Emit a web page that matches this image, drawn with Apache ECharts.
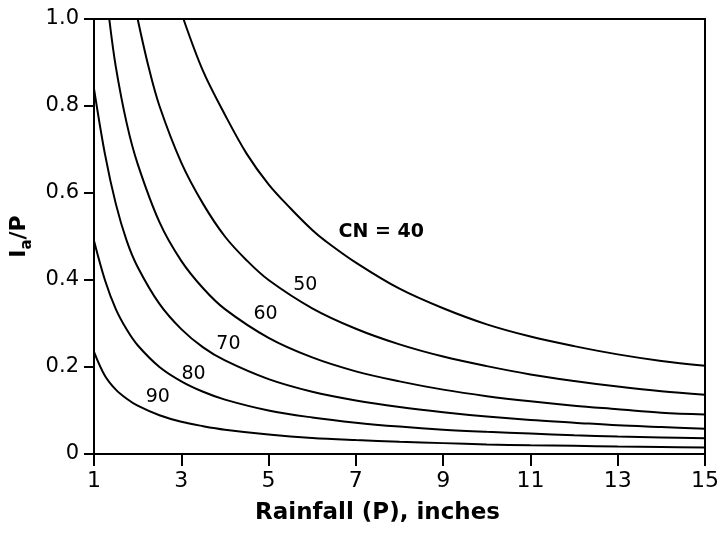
<!DOCTYPE html>
<html>
<head>
<meta charset="utf-8">
<script src="https://cdn.jsdelivr.net/npm/echarts@6/dist/echarts.min.js"></script>
<style>
  html, body { margin: 0; padding: 0; background: #fff; }
  #chart { width: 722px; height: 533px; }
</style>
</head>
<body>
<div id="chart"></div>
<script>
// rainfall P (inches) and Ia/P
const p40 = [3.05, 3.5, 4, 4.5, 5, 5.5, 6, 6.3, 7, 8, 9, 10, 11, 12, 13, 14, 15];
const v40 = [1.0, 0.88, 0.78, 0.69, 0.62, 0.565, 0.515, 0.49, 0.44, 0.38, 0.335, 0.298, 0.27, 0.248, 0.229, 0.214, 0.203];

const p50 = [2.0, 2.25, 2.5, 3, 3.5, 4, 4.5, 5, 6, 7, 8, 9, 10, 11, 12, 13, 14, 15];
const v50 = [1.0, 0.89, 0.8, 0.67, 0.575, 0.5, 0.445, 0.4, 0.335, 0.288, 0.252, 0.224, 0.202, 0.183, 0.168, 0.155, 0.144, 0.136];

const p60 = [1.35, 1.5, 1.75, 2, 2.5, 3, 3.5, 4, 5, 6, 7, 8, 9, 10, 11, 12, 13, 14, 15];
const v60 = [1.0, 0.89, 0.76, 0.667, 0.533, 0.444, 0.381, 0.333, 0.267, 0.222, 0.19, 0.167, 0.148, 0.133, 0.121, 0.111, 0.103, 0.095, 0.091];

const p70 = [1, 1.25, 1.5, 1.75, 2, 2.5, 3, 3.5, 4, 5, 6, 7, 8, 9, 10, 11, 12, 13, 14, 15];
const v70 = [0.84, 0.69, 0.575, 0.49, 0.43, 0.345, 0.287, 0.245, 0.215, 0.172, 0.143, 0.123, 0.108, 0.096, 0.086, 0.078, 0.072, 0.066, 0.062, 0.058];

const p80 = [1, 1.25, 1.5, 1.75, 2, 2.5, 3, 3.5, 4, 5, 6, 7, 8, 9, 10, 11, 12, 13, 14, 15];
const v80 = [0.49, 0.4, 0.333, 0.286, 0.25, 0.2, 0.167, 0.143, 0.125, 0.1, 0.084, 0.072, 0.063, 0.056, 0.051, 0.047, 0.043, 0.04, 0.038, 0.036];

const p90 = [1, 1.25, 1.5, 1.75, 2, 2.5, 3, 3.5, 4, 5, 6, 7, 8, 9, 10, 11, 12, 13, 14, 15];
const v90 = [0.235, 0.18, 0.148, 0.127, 0.111, 0.089, 0.074, 0.064, 0.056, 0.045, 0.037, 0.032, 0.028, 0.025, 0.022, 0.02, 0.019, 0.017, 0.016, 0.015];

// curve labels, placed in data units
const labelText = ['CN = 40', '50', '60', '70', '80', '90'];
const labelP = [7.58, 5.84, 4.93, 4.08, 3.28, 2.46];
const labelV = [0.51, 0.389, 0.322, 0.253, 0.184, 0.131];

const xTicks = { min: 1, max: 15, interval: 2 };
const yTicks = { min: 0, max: 1, interval: 0.2 };

const pairs = (ps, vs) => ps.map((p, i) => [p, vs[i]]);

const curves = [[p40, v40], [p50, v50], [p60, v60], [p70, v70], [p80, v80], [p90, v90]];

const lineSeries = curves.map((c) => ({
  type: 'line',
  data: pairs(c[0], c[1]),
  showSymbol: false,
  smooth: 0.35,
  lineStyle: { color: '#000', width: 2 },
  silent: true
}));

// labels sit on invisible points (scatter is 0.8 opacity by default)
const labelSeries = {
  type: 'scatter',
  symbolSize: 0,
  silent: true,
  itemStyle: { color: '#000', opacity: 1 },
  data: labelText.map((t, i) => ({
    value: [labelP[i], labelV[i]],
    name: t,
    label: { fontWeight: i === 0 ? 'bold' : 'normal' }
  })),
  label: {
    show: true,
    position: 'inside',
    formatter: (d) => d.name,
    color: '#000',
    textBorderWidth: 0,
    fontFamily: 'DejaVu Sans',
    fontSize: 19
  }
};

const myChart = echarts.init(document.getElementById('chart'));
myChart.setOption({
  backgroundColor: '#fff',
  animation: false,
  grid: {
    left: 94, right: 16, top: 19, bottom: 79,
    show: true, borderColor: '#000', borderWidth: 2
  },
  xAxis: {
    type: 'value',
    min: xTicks.min, max: xTicks.max, interval: xTicks.interval,
    name: 'Rainfall (P), inches',
    nameLocation: 'middle',
    nameGap: 48,
    nameTextStyle: {
      color: '#000', fontFamily: 'DejaVu Sans', fontWeight: 'bold', fontSize: 23,
      padding: [0, 44, 0, 0]
    },
    axisLine: { lineStyle: { color: '#000', width: 2 } },
    axisTick: { length: 12, lineStyle: { color: '#000', width: 2 } },
    axisLabel: { color: '#000', fontFamily: 'DejaVu Sans', fontSize: 22, margin: 16 },
    splitLine: { show: false }
  },
  yAxis: {
    type: 'value',
    min: yTicks.min, max: yTicks.max, interval: yTicks.interval,
    name: '{b|I}{s|a}{b|/P}',
    nameLocation: 'middle',
    nameGap: 55,
    nameTextStyle: {
      color: '#000',
      rich: {
        b: { fontFamily: 'DejaVu Sans', fontWeight: 'bold', fontSize: 22, lineHeight: 30, color: '#000' },
        s: { fontFamily: 'DejaVu Sans', fontWeight: 'bold', fontSize: 15, lineHeight: 15, verticalAlign: 'bottom', color: '#000' }
      }
    },
    axisLine: { show: true, lineStyle: { color: '#000', width: 2 } },
    axisTick: { show: true, length: 10, lineStyle: { color: '#000', width: 2 } },
    axisLabel: {
      color: '#000', fontFamily: 'DejaVu Sans', fontSize: 21, margin: 15,
      formatter: (v) => (v === 0 ? '0' : v.toFixed(1))
    },
    splitLine: { show: false }
  },
  series: lineSeries.concat([labelSeries])
});
</script>
</body>
</html>
